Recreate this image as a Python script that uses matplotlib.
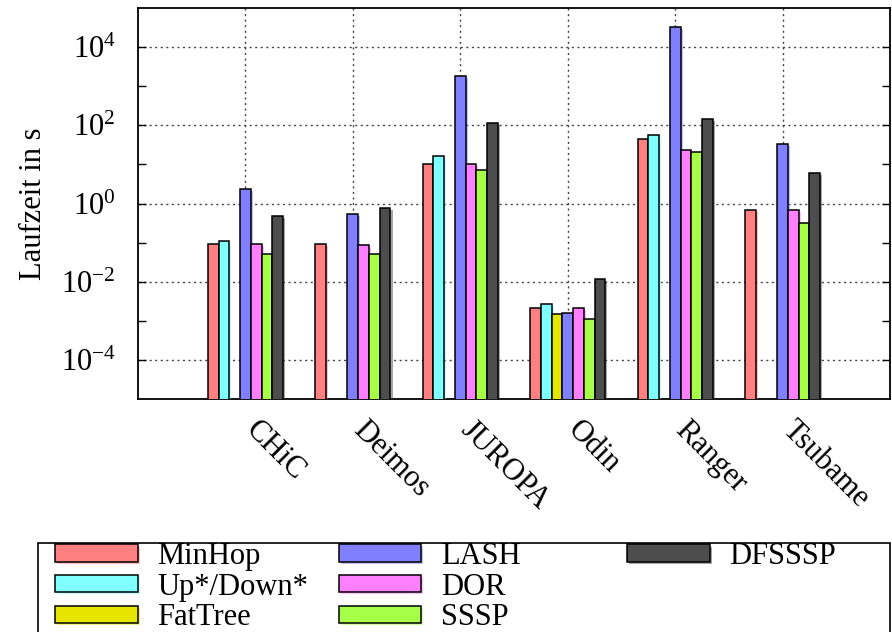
import numpy as np
import matplotlib
matplotlib.use("Agg")
import matplotlib.pyplot as plt
import matplotlib.patheffects as pe
import matplotlib.transforms as mtransforms
from matplotlib.patches import Rectangle
from matplotlib.ticker import NullFormatter

plt.rcParams['font.family'] = ['Liberation Serif', 'DejaVu Serif']
plt.rcParams['mathtext.fontset'] = 'custom'
plt.rcParams['mathtext.rm'] = 'Liberation Serif'
plt.rcParams['font.size'] = 22

systems = ['CHiC', 'Deimos', 'JUROPA', 'Odin', 'Ranger', 'Tsubame']
algos = ['MinHop', 'Up*/Down*', 'FatTree', 'LASH', 'DOR', 'SSSP', 'DFSSSP']
colors = ['#ff8080', '#80ffff', '#e5e500', '#8080ff', '#ff80ff', '#a8ff48', '#4d4d4d']

# runtime in s per system (nan = no result)
minhop = [0.09, 0.09, 10.4, 0.0021, 44.6, 0.69]
updown = [0.107, np.nan, 16.0, 0.0027, 56.0, np.nan]
fattree = [np.nan, np.nan, np.nan, 0.00145, np.nan, np.nan]
lash = [2.4, 0.53, 1830.0, 0.00158, 32000.0, 32.5]
dor = [0.09, 0.087, 10.2, 0.0021, 22.9, 0.67]
sssp = [0.052, 0.05, 7.2, 0.0011, 20.8, 0.32]
dfsssp = [0.48, 0.79, 117.0, 0.0117, 142.0, 5.9]
series = [minhop, updown, fattree, lash, dor, sssp, dfsssp]

W, H = 892, 632
fig = plt.figure(figsize=(W / 100, H / 100), dpi=100)
ax = fig.add_axes([138 / W, 1 - 399 / H, (890 - 138) / W, (399 - 8) / H])

x = np.arange(1, len(systems) + 1)
bw = 0.1
for i, (name, vals, c) in enumerate(zip(algos, series, colors)):
    ax.bar(x + (i - 3) * bw, vals, bw, color=c, edgecolor='black', linewidth=1.1,
           label=name, zorder=3,
           path_effects=[pe.SimplePatchShadow(offset=(1.5, -1.5), shadow_rgbFace=c, alpha=0.5),
                         pe.Normal()])

ax.set_yscale('log')
ax.set_ylim(1e-5, 1e5)
ax.set_xlim(0, 7)

major = [1e-4, 1e-2, 1e0, 1e2, 1e4]
ax.set_yticks(major, [r'$\mathdefault{10^{-4}}$', r'$\mathdefault{10^{-2}}$',
                      r'$\mathdefault{10^{0}}$', r'$\mathdefault{10^{2}}$',
                      r'$\mathdefault{10^{4}}$'])
ax.set_yticks([1e-3, 1e-1, 1e1, 1e3], minor=True)
ax.yaxis.set_minor_formatter(NullFormatter())
ax.tick_params(axis='y', which='both', direction='in', length=6, width=1,
               right=True, pad=16)
ax.set_xticks(x)
ax.set_xticklabels(systems, rotation=-45, ha='left', va='top')
ax.tick_params(axis='x', length=0, pad=12)
shift = mtransforms.ScaledTranslation(-6 / 100, 0, fig.dpi_scale_trans)
for lbl in ax.get_xticklabels():
    lbl.set_transform(lbl.get_transform() + shift)

ax.grid(True, which='major', axis='both', color='#444444', linestyle=(0, (1.5, 2.5)),
        linewidth=1, zorder=0)
ax.set_axisbelow(True)
for s in ax.spines.values():
    s.set_linewidth(1.3)

ax.set_ylabel('Laufzeit in s', labelpad=9)

# legend: two column groups inside one frame
handles, labels = ax.get_legend_handles_labels()
leg_kw = dict(frameon=False, borderpad=0, handlelength=2.7, handleheight=0.5,
              handletextpad=0.65, labelspacing=0.05, fontsize=22, borderaxespad=0)
fig.legend(handles[:6], labels[:6], ncol=2, columnspacing=1.0, loc='upper left',
           bbox_to_anchor=(55 / W, 1 - 542 / H), **leg_kw)
fig.legend(handles[6:], labels[6:], ncol=1, loc='upper left',
           bbox_to_anchor=(627 / W, 1 - 542 / H), **leg_kw)
fig.add_artist(Rectangle((38 / W, -0.1), (890 - 38) / W, 0.1 + 1 - 543 / H,
                         transform=fig.transFigure, fill=False, edgecolor='black',
                         linewidth=1.2))

fig.savefig('out.png', dpi=100)
